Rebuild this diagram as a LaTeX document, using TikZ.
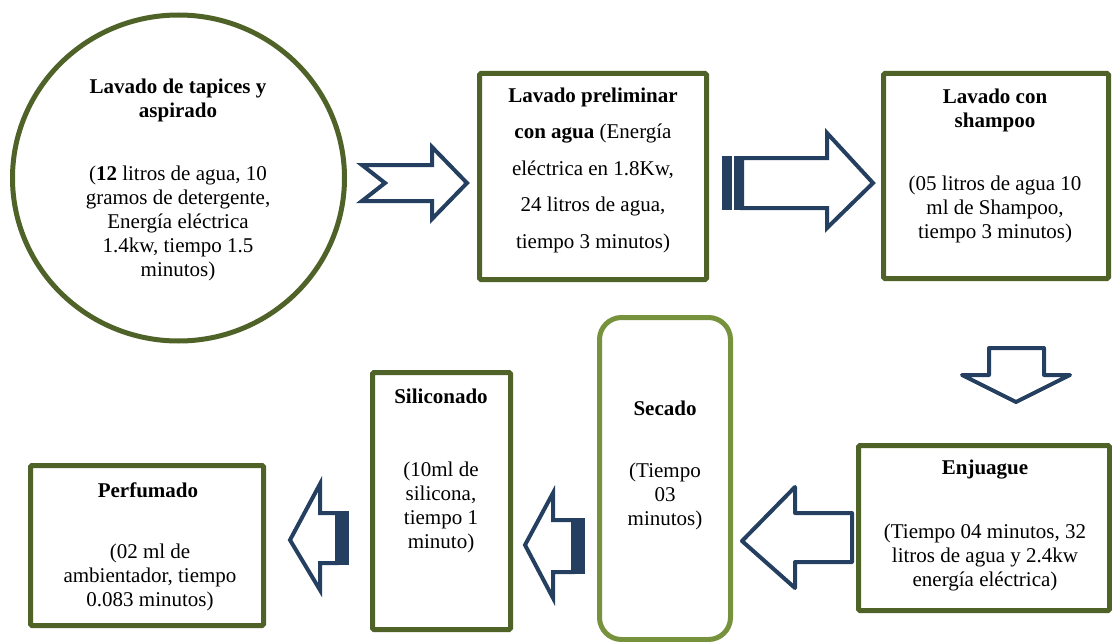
\documentclass[tikz,border=0pt]{standalone}
\usepackage{fontspec}
\setmainfont{Liberation Serif}
\usetikzlibrary{shapes.geometric}

\begin{document}
\begin{tikzpicture}[x=1pt, y=-1pt]
  % Colors
  \definecolor{boxcol}{RGB}{79,98,40}
  \definecolor{drycol}{RGB}{118,146,60}
  \definecolor{arrcol}{RGB}{36,63,96}
  %
  \def\fs{21}
  \def\lw{5pt}
  %
  \tikzset{
    stepbox/.style={draw=boxcol, line width=\lw, rectangle, rounded corners=1.5pt, inner sep=0pt},
    steptitle/.style={font=\fontsize{\fs}{24}\selectfont\bfseries, align=center, inner sep=0pt},
    stepbody/.style={font=\fontsize{\fs}{24}\selectfont, align=center, inner sep=0pt},
    blockarr/.style={draw=arrcol, line width=4pt, fill=white},
    stripe/.style={fill=arrcol, draw=none},
  }
  %
  \useasboundingbox (0,0) rectangle (1112,642);
  %
  %%% TOP ROW %%%
  %
  % Lavado de tapices
  \node[draw=boxcol, line width=\lw, ellipse, inner sep=0pt,
        minimum width=332pt, minimum height=326pt] (tapiz) at (178.5, 178) {};
  \node[steptitle] (tapiztit) at (178, 100.5) {Lavado de tapices y\\aspirado};
  \node[stepbody] (tapiztxt) at (178, 223.5) {(\textbf{12} litros de agua, 10\\gramos de detergente,\\Energía eléctrica\\1.4kw, tiempo 1.5\\minutos)};
  %
  % Lavado preliminar
  \node[stepbox, minimum width=227pt, minimum height=206pt] (prelim) at (593, 176.5) {};
  \node[stepbody, font=\fontsize{\fs}{36.5}\selectfont] (prelimtxt) at (593, 170)
    {\textbf{Lavado preliminar}\\\textbf{con agua} (Energía\\eléctrica en 1.8Kw,\\24 litros de agua,\\tiempo 3 minutos)};
  %
  % Lavado con shampoo
  \node[stepbox, minimum width=225pt, minimum height=205pt] (shamp) at (996, 176) {};
  \node[steptitle] (shamptit) at (995, 110) {Lavado con\\shampoo};
  \node[stepbody] (shamptxt) at (995, 209) {(05 litros de agua 10\\ml de Shampoo,\\tiempo 3 minutos)};
  %
  %%% BOTTOM ROW %%%
  %
  % Enjuague
  \node[stepbox, minimum width=251pt, minimum height=165pt] (enjuag) at (984, 528) {};
  \node[steptitle] (enjuagtit) at (985, 470) {Enjuague};
  \node[stepbody] (enjuagtxt) at (985, 557) {(Tiempo 04 minutos, 32\\litros de agua y 2.4kw\\energía eléctrica)};
  %
  % Secado
  \node[draw=drycol, line width=\lw, rectangle, rounded corners=22pt, inner sep=0pt,
        minimum width=131pt, minimum height=322pt] (secado) at (665, 478.5) {};
  \node[steptitle] (secadotit) at (665, 408) {Secado};
  \node[stepbody] (secadotxt) at (665, 496) {(Tiempo\\03\\minutos)};
  %
  % Siliconado
  \node[stepbox, minimum width=138pt, minimum height=257pt] (silic) at (441.5, 501) {};
  \node[steptitle] (silictit) at (441, 396) {Siliconado};
  \node[stepbody] (silictxt) at (441, 507.5) {(10ml de\\silicona,\\tiempo 1\\minuto)};
  %
  % Perfumado
  \node[stepbox, minimum width=233pt, minimum height=160pt] (perfum) at (147, 545.5) {};
  \node[steptitle] (perfumtit) at (148, 490) {Perfumado};
  \node[stepbody] (perfumtxt) at (150, 577) {(02 ml de\\ambientador, tiempo\\0.083 minutos)};
  %
  %%% ARROWS %%%
  %
  % notched right arrow
  \draw[blockarr, line join=miter] (362,165) -- (432,165) -- (432,147) -- (467,183)
    -- (432,219) -- (432,201) -- (362,201) -- (385,183) -- cycle;
  % striped right arrow
  \draw[blockarr, line join=miter] (742,158) -- (827,158) -- (827,133) -- (873,183)
    -- (827,228) -- (827,208) -- (742,208) -- cycle;
  \fill[stripe] (722,156) rectangle (732,210);
  \fill[stripe] (734,156) rectangle (742,210);
  % down arrow
  \draw[blockarr, line join=round] (989,348) -- (1044,348) -- (1044,375) -- (1070,375)
    -- (1016,402) -- (962,375) -- (989,375) -- cycle;
  % left arrow to Secado
  \draw[blockarr, line join=round] (852,513) -- (795,513) -- (795,487) -- (742,541)
    -- (795,588) -- (795,562) -- (852,562) -- cycle;
  % left arrows with stripe
  \draw[blockarr, line join=miter] (573,520) -- (553,520) -- (553,493) -- (525,545)
    -- (553,598) -- (553,572) -- (573,572) -- cycle;
  \fill[stripe] (573,518) rectangle (585,574);
  \draw[blockarr, line join=miter] (337,513) -- (320,513) -- (320,484) -- (290,540)
    -- (320,590) -- (320,563) -- (337,563) -- cycle;
  \fill[stripe] (337,511) rectangle (349,565);
\end{tikzpicture}
\end{document}
